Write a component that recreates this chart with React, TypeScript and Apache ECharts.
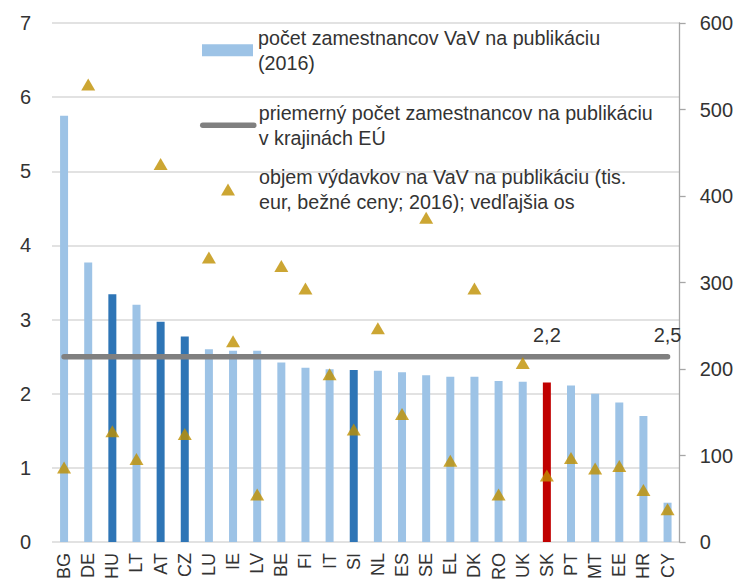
import React, { useEffect, useRef } from "react";
import * as echarts from "echarts";

const categories = ["BG", "DE", "HU", "LT", "AT", "CZ", "LU", "IE", "LV", "BE", "FI", "IT", "SI", "NL", "ES", "SE", "EL", "DK", "RO", "UK", "SK", "PT", "MT", "EE", "HR", "CY"];
const staffPerPublication = [5.75, 3.77, 3.34, 3.2, 2.97, 2.77, 2.6, 2.58, 2.58, 2.42, 2.35, 2.33, 2.32, 2.31, 2.29, 2.25, 2.23, 2.23, 2.17, 2.16, 2.15, 2.11, 2.0, 1.88, 1.7, 0.53];
const expenditurePerPublication = [86, 529, 128, 96, 437, 125, 329, 232, 55, 319, 293, 194, 130, 247, 148, 375, 94, 293, 55, 207, 77, 97, 85, 88, 60, 38];
const euAverage = 2.5;
const darkCountries = ["HU", "AT", "CZ", "SI"];
const highlightCountry = "SK";
const lineAnnotations = [
  { country: "SK", text: "2,2" },
  { country: "CY", text: "2,5" },
];
const leftAxisMin = 0;
const leftAxisMax = 7;
const leftAxisStep = 1;
const rightAxisMin = 0;
const rightAxisMax = 600;
const rightAxisStep = 100;

const seriesNames = {
  bars: "počet zamestnancov VaV na publikáciu\n(2016)",
  line: "priemerný počet zamestnancov na publikáciu\nv krajinách EÚ",
  scatter: "objem výdavkov na VaV na publikáciu (tis.\neur, bežné ceny; 2016); vedľajšia os",
};

const FONT = "'Liberation Sans', Arial, sans-serif";
const TEXT = "#333333";
const LIGHT = "#9DC3E6";
const DARK = "#2E75B6";
const RED = "#C00000";
const GOLD = "#BF9000";
const GREY_LINE = "#808080";

export default function App() {
  const ref = useRef<HTMLDivElement>(null);
  useEffect(() => {
    if (!ref.current) return;
    const chart = echarts.init(ref.current, undefined, { renderer: "svg" });
    const barData = categories.map((c, i) => ({
      value: staffPerPublication[i],
      itemStyle: {
        color: c === highlightCountry ? RED : darkCountries.includes(c) ? DARK : LIGHT,
      },
    }));
    const legendText = {
      fontFamily: FONT,
      fontSize: 19.7,
      color: TEXT,
      lineHeight: 25,
      padding: [0, 0, -25, 0],
    };
    chart.setOption({
      animation: false,
      textStyle: { fontFamily: FONT },
      grid: { left: 52, right: 55, top: 23, bottom: 43, containLabel: false },
      legend: [
        {
          data: [{ name: seriesNames.bars, icon: "rect" }],
          left: 202,
          top: 27.7,
          padding: 0,
          itemWidth: 51,
          itemHeight: 12,
          selectedMode: false,
          textStyle: legendText,
        },
        {
          data: [seriesNames.line],
          left: 200,
          top: 102.8,
          padding: 0,
          itemWidth: 51,
          itemHeight: 1,
          selectedMode: false,
          lineStyle: { width: 5.5, cap: "round", color: GREY_LINE },
          textStyle: legendText,
        },
        {
          data: [seriesNames.scatter],
          left: 221,
          top: 167,
          padding: 0,
          itemWidth: 14,
          itemHeight: 12,
          selectedMode: false,
          textStyle: { ...legendText, padding: [0, 0, -25, 19] },
        },
      ],
      xAxis: {
        type: "category",
        data: categories,
        boundaryGap: true,
        axisLine: { show: false },
        axisTick: { show: false },
        axisLabel: {
          rotate: 90,
          interval: 0,
          margin: 11,
          fontFamily: FONT,
          fontSize: 18,
          color: TEXT,
        },
      },
      yAxis: [
        {
          type: "value",
          min: leftAxisMin,
          max: leftAxisMax,
          interval: leftAxisStep,
          axisLine: { show: false },
          axisTick: { show: false },
          axisLabel: { margin: 21, fontFamily: FONT, fontSize: 20, color: TEXT },
          splitLine: { lineStyle: { color: "#D9D9D9", width: 1.5 } },
        },
        {
          type: "value",
          min: rightAxisMin,
          max: rightAxisMax,
          interval: rightAxisStep,
          position: "right",
          axisLine: { show: true, lineStyle: { color: "#A6A6A6", width: 1.3 } },
          axisTick: { show: true, length: 6, lineStyle: { color: "#A6A6A6", width: 1.3 } },
          axisLabel: { margin: 20, fontFamily: FONT, fontSize: 20, color: TEXT },
          splitLine: { show: false },
        },
      ],
      series: [
        {
          name: seriesNames.bars,
          type: "bar",
          yAxisIndex: 0,
          barWidth: 8,
          data: barData,
          itemStyle: { color: LIGHT },
        },
        {
          name: seriesNames.line,
          type: "line",
          yAxisIndex: 0,
          symbol: "none",
          data: categories.map(() => euAverage),
          lineStyle: { color: GREY_LINE, width: 5.5, cap: "round" },
          itemStyle: { color: GREY_LINE },
          z: 3,
          markPoint: {
            symbol: "circle",
            symbolSize: 1,
            itemStyle: { color: "rgba(0,0,0,0)" },
            label: {
              show: true,
              position: "top",
              distance: 11,
              formatter: "{b}",
              fontFamily: FONT,
              fontSize: 20,
              color: TEXT,
            },
            data: lineAnnotations.map((a) => ({ name: a.text, coord: [a.country, euAverage] })),
          },
        },
        {
          name: seriesNames.scatter,
          type: "scatter",
          yAxisIndex: 1,
          symbol: "triangle",
          symbolSize: [14, 12],
          data: expenditurePerPublication,
          itemStyle: { color: GOLD },
          z: 4,
        },
      ],
    });
    return () => chart.dispose();
  }, []);
  return (
    <div
      ref={ref}
      style={{ position: "absolute", left: 0, top: 0, width: 736, height: 585, background: "#fff" }}
    />
  );
}
